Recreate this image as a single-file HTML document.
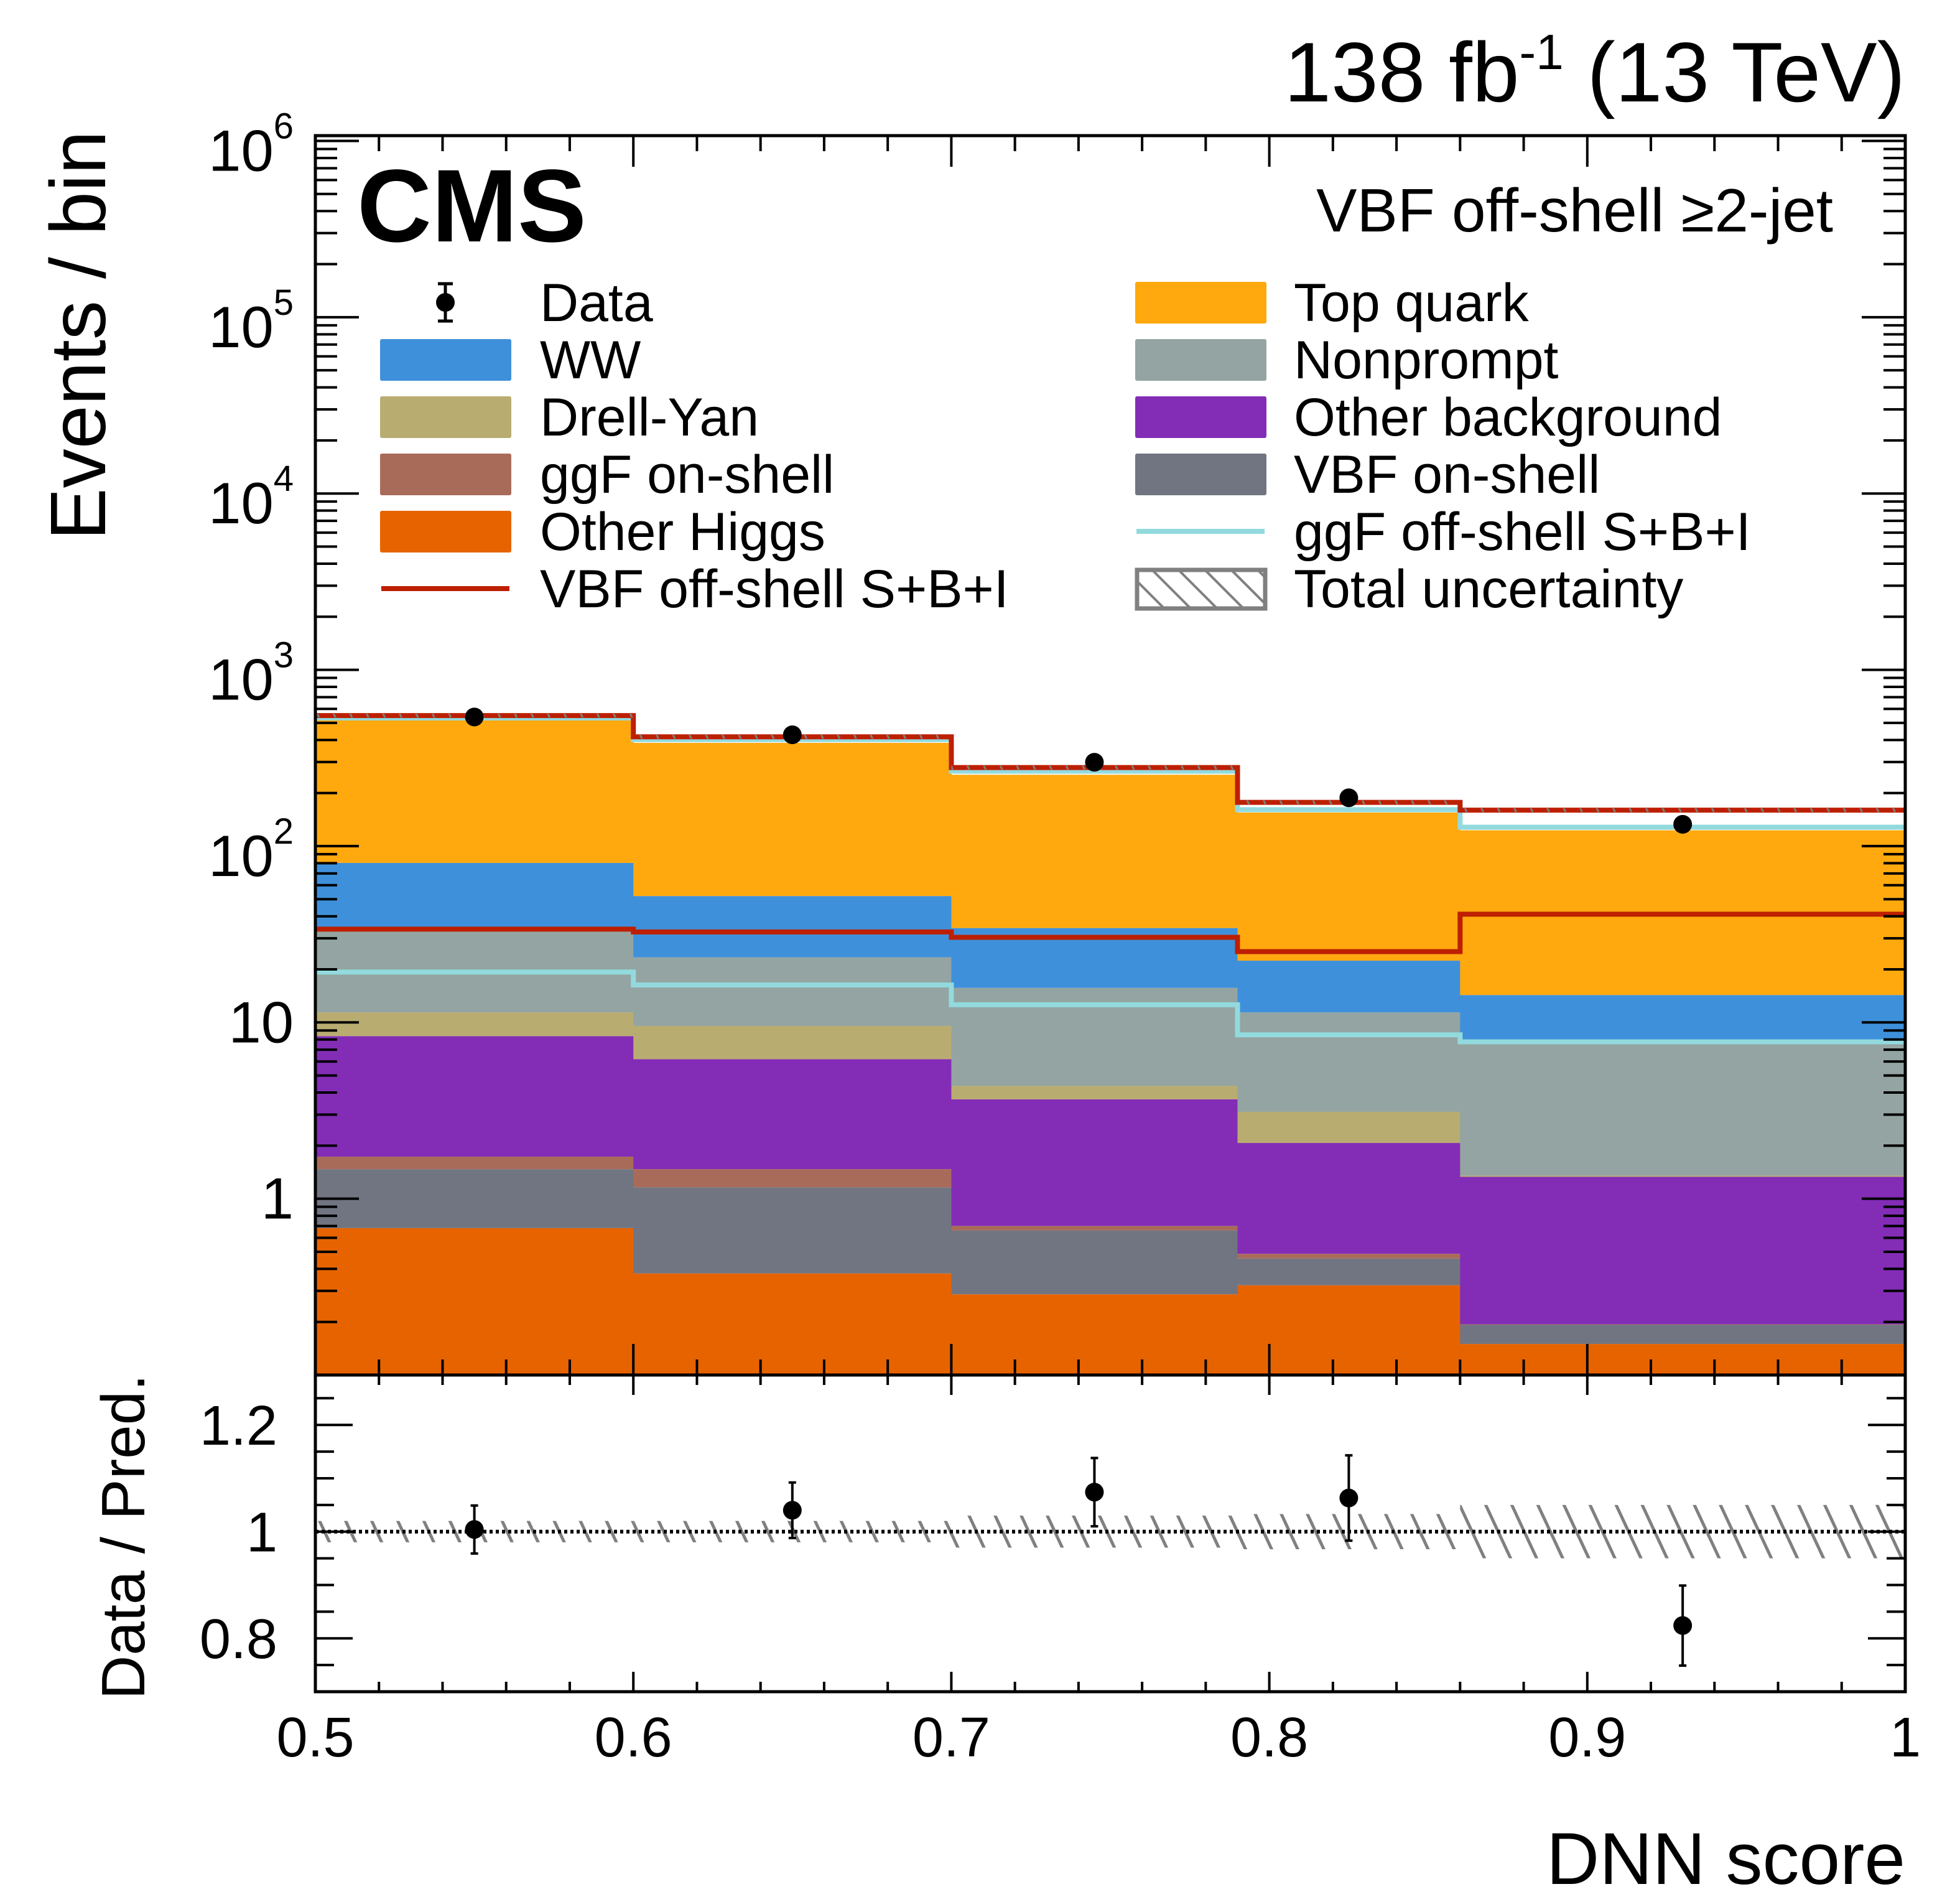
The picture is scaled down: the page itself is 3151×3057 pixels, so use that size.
<!DOCTYPE html>
<html><head><meta charset="utf-8"><style>
html,body{margin:0;padding:0;background:#fff;}
svg{display:block;font-family:"Liberation Sans",Arial,sans-serif;}
</style></head><body>
<svg id="c" width="3151" height="3057" viewBox="0 0 3151 3057" xmlns="http://www.w3.org/2000/svg">
<defs>
<pattern id="hatch" patternUnits="userSpaceOnUse" width="38" height="38" patternTransform="rotate(-25)">
<line x1="0" y1="0" x2="0" y2="38" stroke="#808080" stroke-width="10"/>
</pattern>
<pattern id="hatchTop" patternUnits="userSpaceOnUse" width="24" height="24" patternTransform="rotate(-25)">
<line x1="0" y1="0" x2="0" y2="24" stroke="#808080" stroke-width="6"/>
</pattern>
<pattern id="hatchL" patternUnits="userSpaceOnUse" width="30" height="30" patternTransform="rotate(-45)">
<line x1="0" y1="0" x2="0" y2="30" stroke="#808080" stroke-width="8"/>
</pattern>
<clipPath id="mainclip"><rect x="507" y="218" width="2556" height="1992"/></clipPath>
<clipPath id="ratclip"><rect x="507" y="2210" width="2556" height="509"/></clipPath>
</defs>
<g id="stack" clip-path="url(#mainclip)"></g>
<g id="lines" clip-path="url(#mainclip)"></g>
<g id="ratio" clip-path="url(#ratclip)"></g>
<g id="axes"></g>
<g id="pts"></g>

<text x="3063" y="163" text-anchor="end" font-size="136">138 fb<tspan dy="-52" font-size="80">-1</tspan><tspan dy="52"> (13 TeV)</tspan></text>
<text x="574" y="388" font-size="166" font-weight="bold">CMS</text>
<text x="2947" y="372" text-anchor="end" font-size="98">VBF off-shell ≥2-jet</text>
<text transform="translate(169,210) rotate(-90)" text-anchor="end" font-size="126">Events / bin</text>
<text transform="translate(232,2470) rotate(-90)" text-anchor="middle" font-size="98">Data / Pred.</text>
<text x="3063" y="3028" text-anchor="end" font-size="118">DNN score</text>

<g id="legend" font-size="86"></g>
</svg>
<script>
const edges = [0.5, 0.6, 0.7, 0.79, 0.86, 1.0];
const procNames = ["Other Higgs","VBF on-shell","ggF on-shell","Other background","Drell-Yan","Nonprompt","WW","Top quark"];
const procColors = ["#e76300","#717581","#a96b59","#832db6","#b9ac70","#94a4a2","#3f90da","#ffa90e"];
const otherHiggs = [0.68, 0.376, 0.286, 0.322, 0.149];
const vbfOnShell = [0.79, 0.784, 0.374, 0.135, 0.043];
const ggfOnShell = [0.26, 0.31, 0.04, 0.029, 0.001];
const otherBkg = [6.63, 4.72, 2.96, 1.584, 1.137];
const drellYan = [3.04, 3.36, 0.70, 1.04, 0.02];
const nonprompt = [21.4, 13.85, 11.34, 8.29, 6.65];
const ww = [47.5, 28.7, 18.6, 11.0, 6.3];
const topQuark = [436, 333, 219.7, 132.6, 108.7];
const ggfOffLine = [19.3, 16.3, 12.6, 8.5, 7.76];
const vbfOffLine = [33.8, 32.6, 30.4, 25.2, 41.1];
const ggfTotal = [533, 402, 266, 161, 128];
const vbfTotal = [550, 417, 279, 177, 160];
const dataVals = [540, 428, 299, 188, 133];
const ratioVals = [1.004, 1.04, 1.074, 1.063, 0.824];
const ratioErr = [0.045, 0.052, 0.064, 0.08, 0.075];
const bandErr = [0.02, 0.02, 0.03, 0.033, 0.05];
const xTicks = [0.5, 0.6, 0.7, 0.8, 0.9, 1.0];
const xTickLabels = ["0.5","0.6","0.7","0.8","0.9","1"];
const rTicks = [0.8, 1.0, 1.2];
const rTickLabels = ["0.8","1","1.2"];

const NS = "http://www.w3.org/2000/svg";
const XL=507, XR=3063, YT=218, YB=2210, LMIN=-1, LMAX=6.03, RT=2210, RB=2719, RMIN=0.7, RMAX=1.2935;
const X = v => XL + (v-0.5)/0.5*(XR-XL);
const Y = v => YB - (Math.log10(v)-LMIN)/(LMAX-LMIN)*(YB-YT);
const YR = v => RB - (v-RMIN)/(RMAX-RMIN)*(RB-RT);
function mk(tag, attrs, parent){const e=document.createElementNS(NS,tag);for(const k in attrs)e.setAttribute(k,attrs[k]);parent.appendChild(e);return e;}
const centers = edges.slice(0,-1).map((e,i)=>(e+edges[i+1])/2);

// stack
const stack = document.getElementById('stack');
const series = [otherHiggs,vbfOnShell,ggfOnShell,otherBkg,drellYan,nonprompt,ww,topQuark];
const cum = [0.001,0.001,0.001,0.001,0.001];
series.forEach((s,p)=>{
  s.forEach((v,i)=>{
    const lo=cum[i], hi=cum[i]+v;
    const r = mk('rect',{x:X(edges[i]),y:Y(hi),width:X(edges[i+1])-X(edges[i])+0.5,height:Math.max(0,Y(lo)-Y(hi)),fill:procColors[p]},stack);
    
    
    cum[i]=hi;
  });
});

// step lines
const lines = document.getElementById('lines');
function stepPath(vals){let d='';vals.forEach((v,i)=>{d+=(i?'L':'M')+X(edges[i])+','+Y(v)+'L'+X(edges[i+1])+','+Y(v);});return d;}
function drawStep(vals,color,name){
  const p = mk('path',{d:stepPath(vals),fill:'none',stroke:color,'stroke-width':8},lines);
  
  
}
drawStep(ggfTotal,'#92dadd','ggf-offshell-total-line');
drawStep(vbfTotal,'#bd1f01','vbf-offshell-total-line');
vbfTotal.forEach((v,i)=>{
  const r = mk('rect',{x:X(edges[i]),y:Y(v*1.025),width:X(edges[i+1])-X(edges[i]),height:Y(v*0.975)-Y(v*1.025),fill:'url(#hatchTop)'},lines);
  
  
});
drawStep(vbfOffLine,'#bd1f01','vbf-offshell-sbi-line');
drawStep(ggfOffLine,'#92dadd','ggf-offshell-sbi-line');

// ratio
const ratio = document.getElementById('ratio');
bandErr.forEach((e,i)=>{
  const r = mk('rect',{x:X(edges[i]),y:YR(1+e),width:X(edges[i+1])-X(edges[i]),height:YR(1-e)-YR(1+e),fill:'url(#hatch)'},ratio);
  
  
});
const ref = mk('line',{x1:XL,x2:XR,y1:YR(1),y2:YR(1),stroke:'#000','stroke-width':6,'stroke-dasharray':'5,5'},ratio);



// points
const pts = document.getElementById('pts');
dataVals.forEach((v,i)=>{
  const c = mk('circle',{cx:X(centers[i]),cy:Y(v),r:15,fill:'#000'},pts);
  
  
});
ratioVals.forEach((v,i)=>{
  const x=X(centers[i]);
  const l = mk('path',{d:`M${x},${YR(v+ratioErr[i])}L${x},${YR(v-ratioErr[i])}M${x-6},${YR(v+ratioErr[i])}L${x+6},${YR(v+ratioErr[i])}M${x-6},${YR(v-ratioErr[i])}L${x+6},${YR(v-ratioErr[i])}`,stroke:'#000','stroke-width':4,fill:'none'},pts);
  
  
  const c = mk('circle',{cx:x,cy:YR(v),r:15,fill:'#000'},pts);
  
  
});

// axes
const axes = document.getElementById('axes');
function frame(y1,y2,name){
  const r = mk('rect',{x:XL,y:y1,width:XR-XL,height:y2-y1,fill:'none',stroke:'#000','stroke-width':5},axes);
  
  
}
frame(YT,YB,'main-frame');
frame(RT,RB,'ratio-frame');
let tk='';
for(let k=0;k<=25;k++){
  const v=0.5+k*0.02, x=X(v), major=(k%5===0);
  const lm=major?50:25, lr=major?32:16;
  tk+=`M${x},${YB}L${x},${YB-lm}M${x},${YT}L${x},${YT+lm}M${x},${RB}L${x},${RB-lr}M${x},${RT}L${x},${RT+lr}`;
}
for(let d=-1;d<=6;d++){
  for(let m=1;m<=9;m++){
    const v=m*Math.pow(10,d); const lg=Math.log10(v);
    if(lg<LMIN-1e-9||lg>LMAX) continue;
    const y=Y(v), l=(m===1)?70:35;
    tk+=`M${XL},${y}L${XL+l},${y}M${XR},${y}L${XR-l},${y}`;
  }
}
for(let k=0;k<=12;k++){
  const v=0.7+k*0.05; if(v>RMAX) continue;
  const y=YR(v), major=(Math.abs((v*10)%2)<1e-6||Math.abs((v*10)%2-2)<1e-6);
  const l=major?60:30;
  tk+=`M${XL},${y}L${XL+l},${y}M${XR},${y}L${XR-l},${y}`;
}
const tp = mk('path',{d:tk,stroke:'#000','stroke-width':4,fill:'none'},axes);



xTicks.forEach((v,i)=>{
  const t = mk('text',{x:X(v),y:2823,'text-anchor':'middle','font-size':90},axes);
  t.textContent = xTickLabels[i];
  
  
});
rTicks.forEach((v,i)=>{
  const t = mk('text',{x:446,y:YR(v)+32,'text-anchor':'end','font-size':90},axes);
  t.textContent = rTickLabels[i];
  
  
});
for(let d=0;d<=6;d++){
  const y=Y(Math.pow(10,d));
  let t;
  if(d===0){ t = mk('text',{x:472,y:y+32,'text-anchor':'end','font-size':94},axes); t.textContent='1'; }
  else if(d===1){ t = mk('text',{x:472,y:y+32,'text-anchor':'end','font-size':94},axes); t.textContent='10'; }
  else {
    t = mk('text',{x:472,y:y+48,'text-anchor':'end','font-size':94},axes);
    const a = mk('tspan',{},t); a.textContent='10';
    const b = mk('tspan',{dy:-52,'font-size':58},t); b.textContent=String(d);
  }
  
  
}

// legend
const leg = document.getElementById('legend');
const legLeft = [["Data","data"],["WW","#3f90da"],["Drell-Yan","#b9ac70"],["ggF on-shell","#a96b59"],["Other Higgs","#e76300"],["VBF off-shell S+B+I","line:#bd1f01"]];
const legRight = [["Top quark","#ffa90e"],["Nonprompt","#94a4a2"],["Other background","#832db6"],["VBF on-shell","#717581"],["ggF off-shell S+B+I","line:#92dadd"],["Total uncertainty","hatch"]];
function legEntries(list,sx,tx){
  list.forEach((e,i)=>{
    const cy=486+i*92;
    const g = mk('g',{},leg);
    
    
    const k=e[1];
    if(k==='data'){
      mk('circle',{cx:sx+105,cy:cy,r:15,fill:'#000'},g);
      mk('path',{d:`M${sx+105},${cy-30}L${sx+105},${cy+30}M${sx+93},${cy-30}L${sx+117},${cy-30}M${sx+93},${cy+30}L${sx+117},${cy+30}`,stroke:'#000','stroke-width':5},g);
    } else if(k.startsWith('line:')){
      mk('line',{x1:sx+2,x2:sx+208,y1:cy,y2:cy,stroke:k.slice(5),'stroke-width':8},g);
    } else if(k==='hatch'){
      mk('rect',{x:sx+3,y:cy-30,width:206,height:62,fill:'url(#hatchL)',stroke:'#808080','stroke-width':7},g);
    } else {
      mk('rect',{x:sx,y:cy-33,width:211,height:67,fill:k,rx:3},g);
    }
    const t = mk('text',{x:tx,y:cy+30},g);
    t.textContent=e[0];
  });
}
legEntries(legLeft,611,868);
legEntries(legRight,1825,2080);
</script>
</body></html>
